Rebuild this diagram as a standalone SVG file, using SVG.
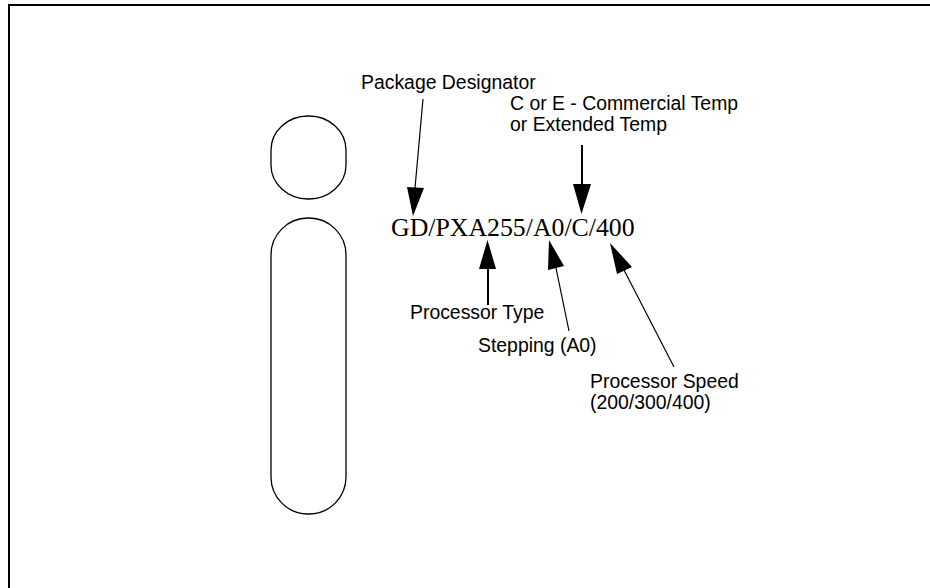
<svg xmlns="http://www.w3.org/2000/svg" width="930" height="588" viewBox="0 0 930 588">
<style>
.l{font-family:"Liberation Sans",Arial,sans-serif;font-size:19.4px;fill:#000}
.m{font-family:"Liberation Serif","Times New Roman",serif;font-size:25.8px;fill:#000}
.o{fill:none;stroke:#000;stroke-width:1.3}
.t{stroke:#000;stroke-width:1.2;fill:none}
.b{stroke:#000;stroke-width:2;fill:none}
.h{fill:#000;stroke:none}
</style>
<rect width="930" height="588" fill="#fff"/>
<path id="frame" d="M9 588V5H930" fill="none" stroke="#000" stroke-width="2"/>
<g id="logo-dot"><rect class="o" x="271" y="116" width="75" height="83" rx="37" ry="34"/></g>
<g id="logo-stem"><rect class="o" x="271" y="218" width="75" height="296" rx="37" ry="37"/></g>
<g id="connectors">
<path class="t" d="M423 99L415 188"/><polygon class="h" points="407,187 424,188 413,216"/>
<path class="b" d="M582 145V185"/><polygon class="h" points="573,184 591,184 581.500,214"/>
<path class="b" d="M488 305V268"/><polygon class="h" points="479,269 496,269 487.500,240"/>
<path class="t" d="M569 331L556 268"/><polygon class="h" points="548,270 564,266 549,240"/>
<path class="t" d="M674 367L624 270"/><polygon class="h" points="617,274 632,267 610,243"/>
</g>
<g id="part-number"><text class="m" x="391" y="235.500">GD/PXA255/A0/C/400</text></g>
<g id="package-designator"><text class="l" x="361" y="89">Package Designator</text></g>
<g id="temp"><text class="l" x="510" y="110">C or E - Commercial Temp</text><text class="l" x="510" y="131">or Extended Temp</text></g>
<g id="processor-type"><text class="l" x="410" y="319">Processor Type</text></g>
<g id="stepping"><text class="l" x="478" y="352">Stepping (A0)</text></g>
<g id="processor-speed"><text class="l" x="590" y="388">Processor Speed</text><text class="l" x="590" y="409">(200/300/400)</text></g>
</svg>
